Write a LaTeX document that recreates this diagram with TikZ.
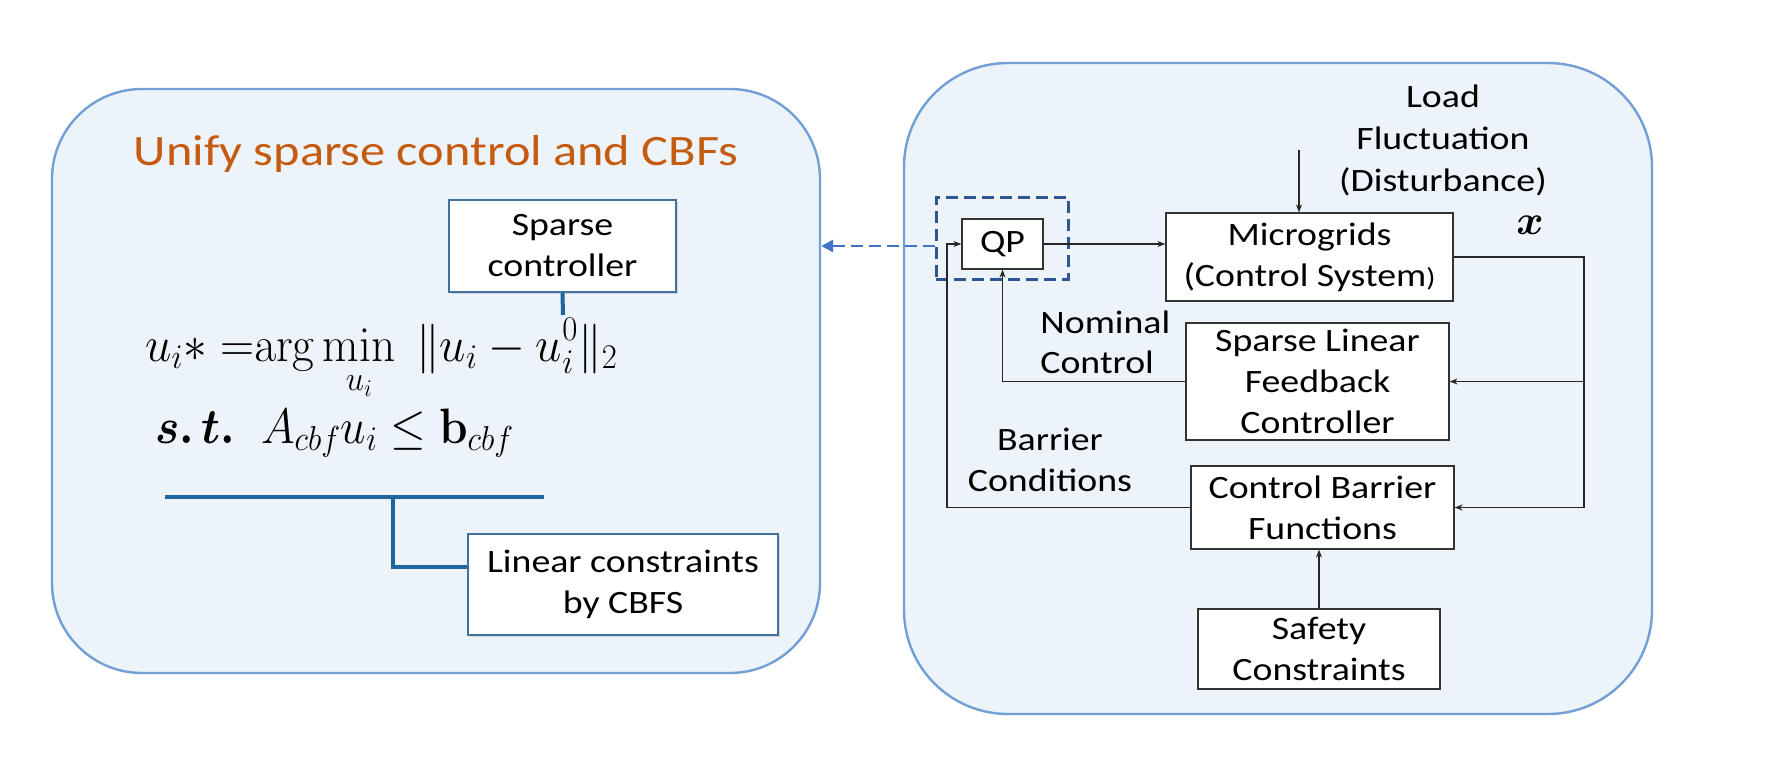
\documentclass[tikz,border=0pt]{standalone}
\usepackage[no-math]{fontspec}
\setmainfont{Carlito}[FakeStretch=1.16]
\usepackage{amsmath,bm,graphicx}
\usetikzlibrary{arrows.meta,shadows}
\definecolor{panelfill}{RGB}{236,244,249}
\definecolor{panelline}{RGB}{114,159,213}
\definecolor{dashnavy}{RGB}{47,85,151}
\definecolor{arrblue}{RGB}{68,114,196}
\definecolor{callblue}{RGB}{31,100,155}
\definecolor{lboxline}{RGB}{65,113,156}
\definecolor{titleor}{RGB}{197,90,17}
\newcommand{\boxfont}{\fontsize{16.3}{20.5}\selectfont}
\begin{document}
\begin{tikzpicture}[x=0.5pt,y=-0.5pt,
  panel/.style={draw=panelline,fill=panelfill,line width=1.2pt,inner sep=0pt},
  blk/.style={draw=black!80,fill=white,line width=0.6pt,inner sep=0pt,align=center,font=\boxfont},
  lbox/.style={draw=lboxline,fill=white,line width=0.7pt,inner sep=0pt,align=center,font=\boxfont,
    drop shadow={opacity=0.25,shadow xshift=1pt,shadow yshift=-1pt}},
  lbl/.style={inner sep=0pt,font=\boxfont},
  eqn/.style={anchor=base west,inner sep=0pt,font=\fontsize{25.8}{30}\selectfont},
  conn/.style={draw=black!85,line width=0.6pt,-{Stealth[length=4pt,width=3pt]}},
  call/.style={draw=callblue,line width=2pt},
  dashbox/.style={draw=dashnavy,line width=1.5pt,dash pattern=on 6pt off 3pt,inner sep=0pt}]
\fill[white] (0,0) rectangle (1768,772);
\useasboundingbox (0,0) rectangle (1768,772);

% panels
\node[panel,minimum width=384pt,minimum height=292pt,rounded corners=45pt] (lp) at (436,381) {};
\node[panel,minimum width=374pt,minimum height=325.5pt,rounded corners=52pt] (rp) at (1278,388.5) {};

% left panel
\node[anchor=base,text=titleor,font=\fontsize{21.7}{26}\selectfont,inner sep=0pt] (title) at (436,165) {Unify sparse control and CBFs};
\node[lbox,minimum width=113.5pt,minimum height=46pt] (spc) at (562.5,246) {Sparse\\controller};
\node[lbox,minimum width=155pt,minimum height=50.5pt] (lc) at (623,584.5) {Linear constraints\\by CBFS};
\node[eqn] (eq1) at (145,361)
  {\scalebox{0.95}[1]{$\displaystyle u_i{*}\;{=}\mathrm{arg}\min_{u_i}\ \|u_i-u_i^0\|_2$}};
\node[eqn] (eq2) at (155,443)
  {\scalebox{0.92}[1]{$\boldsymbol{s.\,t.}\;\; A_{cbf}u_i\le\mathbf{b}_{cbf}$}};
\coordinate (spe) at (563,315);
\draw[call] (spc.south) -- (spe);
\coordinate (hla) at (165,497);
\coordinate (hlb) at (544,497);
\coordinate (hlj) at (393,497);
\draw[call] (hla) -- (hlb);
\draw[call] (hlj) |- ([yshift=9pt]lc.west);

% right panel
\node[dashbox,minimum width=66pt,minimum height=41pt] (dq) at (1002,238) {};
\node[blk,minimum width=40.5pt,minimum height=25pt] (qp) at (1002.5,244) {QP};
\node[blk,minimum width=143.5pt,minimum height=44pt] (mg) at (1309.5,257) {Microgrids\\(Control System{\fontsize{13}{13}\selectfont)}};
\node[blk,minimum width=131.5pt,minimum height=58.5pt] (slfc) at (1317.5,381.5) {Sparse Linear\\Feedback\\Controller};
\node[blk,minimum width=131.5pt,minimum height=41.5pt] (cbf) at (1322.5,507.5) {Control Barrier\\Functions};
\node[blk,minimum width=121pt,minimum height=40pt] (sc) at (1319,649) {Safety\\Constraints};

\node[lbl,align=center,font=\fontsize{16.3}{21}\selectfont] (load) at (1443,140) {Load\\Fluctuation\\(Disturbance)};
\node[inner sep=0pt,font=\fontsize{21}{24}\selectfont] (xl) at (1530,225) {$\bm{x}$};
\node[lbl,anchor=west,align=left,font=\fontsize{16.3}{20}\selectfont] (nom) at (1040,342) {Nominal\\Control};
\node[lbl,align=center,font=\fontsize{16.3}{20.5}\selectfont] (bar) at (1050,460) {Barrier\\Conditions};

% connectors
\draw[conn] (qp.east) -- (qp.east -| mg.west);
\coordinate (ld) at (1299,150);
\draw[conn] (ld) -- (ld |- mg.north);
\coordinate (bus) at (1584,0);
\draw[conn] (mg.east) -| (bus |- cbf.east) -- (cbf.east);
\draw[conn] (bus |- slfc.east) -- (slfc.east);
\draw[conn] (slfc.west) -| (qp.south);
\coordinate (bl) at (947,0);
\draw[conn] (cbf.west) -- (cbf.west -| bl) |- (qp.west);
\draw[conn] (sc.north) -- (sc.north |- cbf.south);

% link between panels
\coordinate (dqa) at ([yshift=-4pt]dq.west);
\draw[arrblue,line width=1.4pt,dash pattern=on 6pt off 3pt,-{Triangle[length=6pt,width=6pt]}] (dqa) -- (lp.east |- dqa);
\end{tikzpicture}
\end{document}
